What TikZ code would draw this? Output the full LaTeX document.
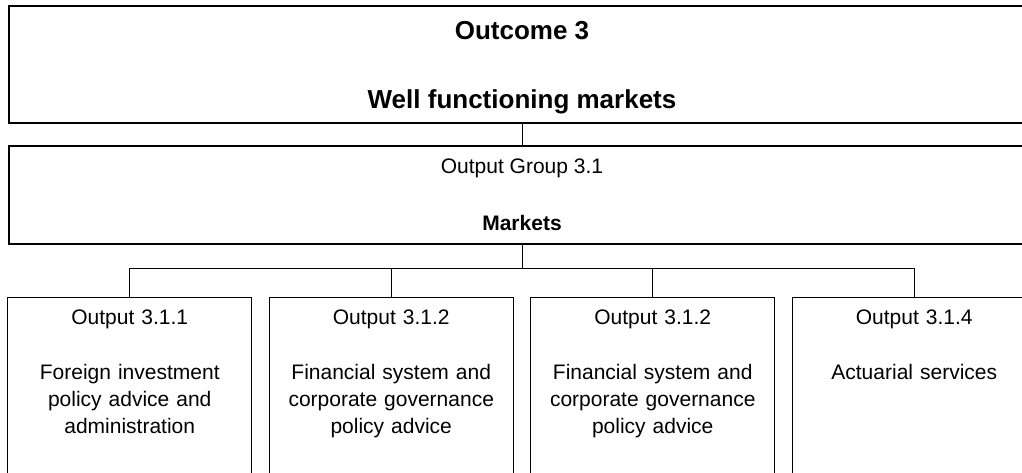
\documentclass[tikz,border=0pt]{standalone}
\usepackage{fontspec}
\setmainfont{Liberation Sans}

\begin{document}
\begin{tikzpicture}[x=1pt,y=1pt,
  outcome/.style={rectangle,draw,line width=1.2pt,minimum width=1026pt,minimum height=117pt,align=center,font=\fontsize{26}{30}\selectfont\bfseries},
  group/.style={rectangle,draw,line width=1.2pt,minimum width=1026pt,minimum height=98pt,align=center,font=\fontsize{21}{25}\selectfont},
  output/.style={rectangle,draw,line width=1.2pt,anchor=north,inner sep=12pt,text width=220pt,text height=15pt,text depth=180pt,align=center,font=\fontsize{21}{27}\selectfont},
  edge from parent/.style={draw,line width=0.8pt},
  parent anchor=south,child anchor=north,
  level 1/.style={level distance=130.5pt},
  level 2/.style={level distance=102pt,sibling distance=261.5pt,
    edge from parent path={(\tikzparentnode.south) -- ++(0,-24) -| (\tikzchildnode.north)}}]
\useasboundingbox (0,0) rectangle (1022,-472);
\clip (0,0) rectangle (1022,-472);
\node [outcome] (outcome) at (522,-64.5) {\rule{0pt}{25pt}Outcome 3\\[39pt]Well functioning markets}
  child {node[group] (group) {Output Group 3.1\\[32pt]\textbf{Markets}}
    child {node[output] (out1) {Output 3.1.1\\[28pt]Foreign investment\\policy advice and\\administration}}
    child {node[output] (out2) {Output 3.1.2\\[28pt]Financial system and\\corporate governance\\policy advice}}
    child {node[output] (out3) {Output 3.1.2\\[28pt]Financial system and\\corporate governance\\policy advice}}
    child {node[output] (out4) {Output 3.1.4\\[28pt]Actuarial services}}
  }
;
\end{tikzpicture}
\end{document}
